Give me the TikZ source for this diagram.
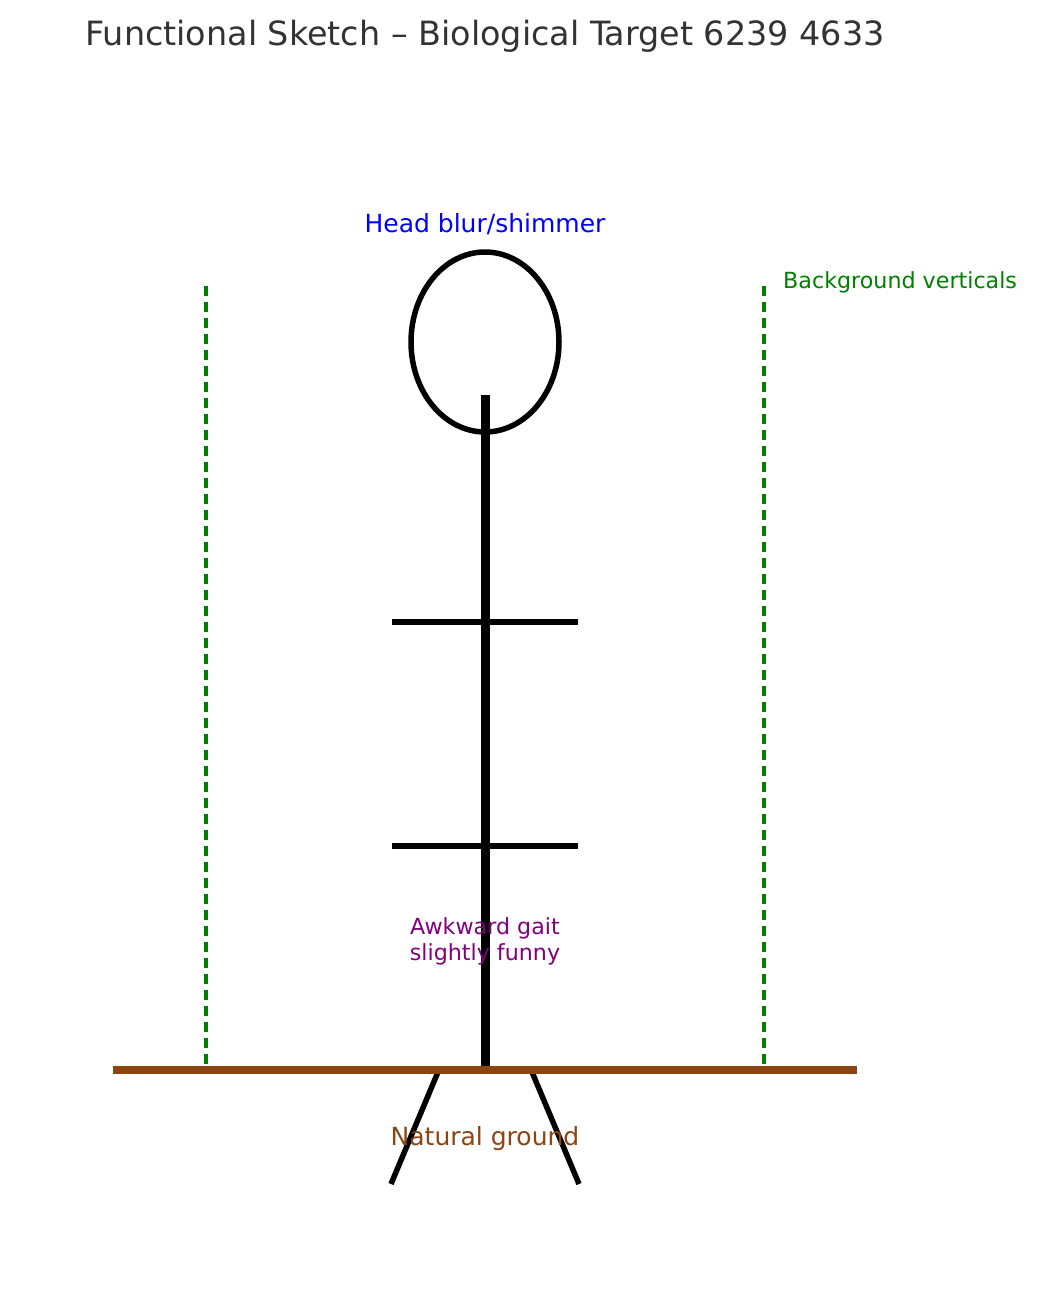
\documentclass[tikz,border=0pt]{standalone}
\usepackage{fontspec}
\setmainfont{DejaVu Sans}
\definecolor{brownish}{HTML}{8B4513}
\definecolor{greenish}{HTML}{008000}
\definecolor{titlegray}{HTML}{333333}
\definecolor{purp}{HTML}{800080}
\begin{document}
\begin{tikzpicture}[x=1pt,y=-1pt,
  limb/.style={line width=5.5pt,black},
  vert/.style={line width=4pt,greenish,dash pattern=on 10pt off 6pt},
  lbl/.style={inner sep=0pt,font=\fontsize{22.2}{26}\selectfont}]
\useasboundingbox (0,0) rectangle (1037,1314);
\node[font=\fontsize{33.4}{38}\selectfont,text=titlegray] (title) at (485,36) {Functional Sketch – Biological Target 6239 4633};
\draw[vert] (206,286) -- (206,1068);
\draw[vert] (764,286) -- (764,1068);
\draw[line width=5.5pt] (485,342) ellipse [x radius=74,y radius=90];
\draw[line width=9pt] (485,395) -- (485,1068);
\draw[limb] (392,622) -- (578,622);
\draw[limb] (392,846) -- (578,846);
\draw[limb] (438,1072) -- (391,1184);
\draw[limb] (532,1072) -- (579,1184);
\draw[line width=8pt,brownish] (113,1070) -- (857,1070);
\node[lbl,font=\fontsize{25}{29}\selectfont,text=blue] (head) at (485,224) {Head blur/shimmer};
\node[lbl,anchor=west,text=greenish] (bg) at (783,282) {Background verticals};
\node[lbl,align=center,text=purp] (gait) at (485,941) {Awkward gait\\slightly funny};
\node[lbl,font=\fontsize{25}{29}\selectfont,text=brownish] (ground) at (485,1139) {Natural ground};
\end{tikzpicture}
\end{document}
